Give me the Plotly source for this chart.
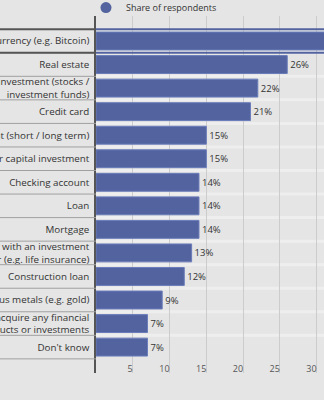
import plotly.graph_objects as go

categories = [
    "Cryptocurrency (e.g. Bitcoin)",
    "Real estate",
    "Equity investment (stocks /<br>investment funds)",
    "Credit card",
    "Savings account (short / long term)",
    "Other capital investment",
    "Checking account",
    "Loan",
    "Mortgage",
    "Insurance with an investment<br>wrapper (e.g. life insurance)",
    "Construction loan",
    "Precious metals (e.g. gold)",
    "I don't plan to acquire any financial<br>products or investments",
    "Don't know",
]
values = [36, 26, 22, 21, 15, 15, 14, 14, 14, 13, 12, 9, 7, 7]
x_ticks = [5, 10, 15, 20, 25, 30]
series_name = "Share of respondents"

BAR = "#52639f"
BG = "#e5e5e5"
idx = list(range(len(categories)))

fig = go.Figure()
fig.add_trace(go.Bar(
    y=idx, x=values, orientation="h", width=0.76,
    marker=dict(color=BAR, line=dict(color="#6a7cba", width=1)),
    text=[f"{v}%" for v in values], textposition="outside",
    textfont=dict(family="Open Sans", size=9.5, color="#333333"),
    constraintext="none", cliponaxis=True, showlegend=False,
))
fig.add_trace(go.Scatter(
    x=[None], y=[None], mode="markers", name=series_name,
    marker=dict(symbol="circle", size=11, color=BAR),
))

shapes = []
for i in idx[:-1]:
    b = i + 0.5
    shapes.append(dict(type="line", xref="paper", yref="y", x0=-1, x1=0, y0=b, y1=b,
                       line=dict(color="#a0a0a0", width=1)))
    shapes.append(dict(type="line", xref="paper", yref="y", x0=0, x1=1, y0=b, y1=b,
                       line=dict(color="#eeeeee", width=3), layer="below"))
last = idx[-1] + 0.5
shapes.append(dict(type="line", xref="paper", yref="y", x0=-1, x1=0, y0=last, y1=last,
                   line=dict(color="#a0a0a0", width=1)))
for b in (idx[0] - 0.5, idx[0] + 0.5):
    shapes.append(dict(type="line", xref="paper", yref="y", x0=-1, x1=0, y0=b, y1=b,
                       line=dict(color="#555555", width=2)))
    shapes.append(dict(type="line", xref="paper", yref="y", x0=0, x1=1, y0=b, y1=b,
                       line=dict(color=BAR, width=2)))

fig.update_layout(
    width=324, height=400,
    margin=dict(l=96, r=0, t=16, b=27, autoexpand=False),
    paper_bgcolor=BG, plot_bgcolor=BG,
    font=dict(family="Open Sans", size=9, color="#333333"),
    shapes=shapes,
    showlegend=True,
    legend=dict(orientation="h", x=-0.044, xanchor="left", y=0.983, yanchor="bottom",
                font=dict(size=9, color="#333333"), bgcolor="rgba(0,0,0,0)",
                itemwidth=30, tracegroupgap=0),
    xaxis=dict(range=[0, 31], tickvals=x_ticks, showgrid=True, gridcolor="#cccccc",
               gridwidth=1, zeroline=False, showline=False, ticks="",
               ticklabelposition="inside left", ticklabelstandoff=-7, automargin=False,
               tickfont=dict(size=9, color="#555555")),
    yaxis=dict(range=[14.1, -1.062], tickvals=idx, ticktext=categories,
               showgrid=False, zeroline=False, showline=True, linecolor="#555555",
               linewidth=1.5, ticks="", ticklabelstandoff=3, automargin=False,
               tickfont=dict(size=9.8, color="#333333")),
)

fig.write_html("out.html")
